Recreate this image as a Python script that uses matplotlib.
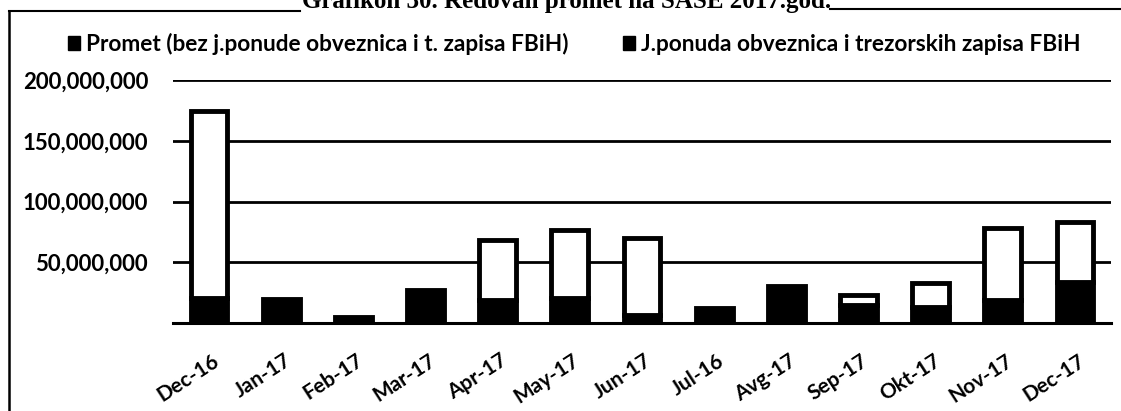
import matplotlib
matplotlib.use("Agg")
import matplotlib.pyplot as plt
from matplotlib.patches import Patch
from matplotlib.lines import Line2D
from matplotlib.ticker import FuncFormatter
from matplotlib.transforms import ScaledTranslation

categories = ["Dec-16", "Jan-17", "Feb-17", "Mar-17", "Apr-17", "May-17", "Jun-17",
              "Jul-16", "Avg-17", "Sep-17", "Okt-17", "Nov-17", "Dec-17"]
promet = [20.6e6, 19.8e6, 4.7e6, 27.2e6, 18.4e6, 20.6e6, 6.0e6,
          12.4e6, 30.5e6, 15.0e6, 13.0e6, 19.0e6, 34.0e6]
ponuda = [153.9e6, 0, 0, 0, 49.5e6, 56.0e6, 63.8e6,
          0, 0, 7.5e6, 19.7e6, 59.0e6, 49.0e6]
series_names = ["Promet (bez j.ponude obveznica i t. zapisa FBiH)",
                "J.ponuda obveznica i trezorskih zapisa FBiH"]
yticks = [50e6, 100e6, 150e6, 200e6]
title = "Grafikon 30. Redovan promet na SASE 2017.god."

W, H = 1121, 411
fig = plt.figure(figsize=(W / 100, H / 100), dpi=100)
FONT = "Lato"

ax = fig.add_axes([173 / W, 1 - 322.7 / H, (1111 - 173) / W, (322.7 - 80.5) / H])
x = list(range(len(categories)))
bw = 0.51
ax.bar(x, promet, width=bw, color="black", edgecolor="black", linewidth=3.5, zorder=3)
for xi, b, q in zip(x, promet, ponuda):
    if q > 0:
        ax.bar(xi, q, bottom=b, width=bw, color="white", edgecolor="black", linewidth=3.5, zorder=3)

ax.set_xlim(-0.5, len(categories) - 0.5)
ax.set_ylim(0, 200e6)
ax.set_yticks(yticks)
ax.yaxis.set_major_formatter(FuncFormatter(lambda v, p: f"{int(v):,}"))
ax.grid(axis="y", color="black", linewidth=2, zorder=0)
ax.set_axisbelow(True)
for s in ["left", "right", "top"]:
    ax.spines[s].set_visible(False)
ax.spines["bottom"].set_linewidth(2.2)
ax.spines["bottom"].set_zorder(4)
ax.tick_params(axis="y", length=0, pad=18, labelsize=16)
ax.tick_params(axis="x", length=0, pad=26, labelsize=15)
for lab in ax.get_yticklabels():
    lab.set_fontfamily(FONT); lab.set_fontweight("bold")
ax.set_xticks(x)
ax.set_xticklabels(categories, rotation=33, ha="right", va="center",
                   rotation_mode="anchor", fontfamily=FONT, fontweight="bold")
off = ScaledTranslation(8 / 100, 0, fig.dpi_scale_trans)
for lab in ax.get_xticklabels():
    lab.set_transform(lab.get_transform() + off)

handles = [Patch(facecolor="black", edgecolor="black"), Patch(facecolor="black", edgecolor="black")]
fig.legend(handles, series_names, loc="center left", bbox_to_anchor=(68 / W, 1 - 44 / H),
           ncol=2, frameon=False, handlelength=0.55, handleheight=0.6, handletextpad=0.25,
           columnspacing=2.4, prop={"family": FONT, "weight": "bold", "size": 16.3},
           borderaxespad=0, borderpad=0)

fig.text(567 / W, 1 - 8 / H, title, ha="center", va="baseline",
         fontfamily="Liberation Serif", fontweight="bold", fontsize=18)

# outer frame
fig.add_artist(Line2D([9 / W, 9 / W], [0, 1 - 11 / H], color="black", lw=1.8, transform=fig.transFigure))
fig.add_artist(Line2D([9 / W, 300 / W], [1 - 11 / H, 1 - 11 / H], color="black", lw=1.5, transform=fig.transFigure))
fig.add_artist(Line2D([830 / W, 1], [1 - 9 / H, 1 - 9 / H], color="black", lw=1.5, transform=fig.transFigure))

fig.savefig("out.png", dpi=100, facecolor="white")
